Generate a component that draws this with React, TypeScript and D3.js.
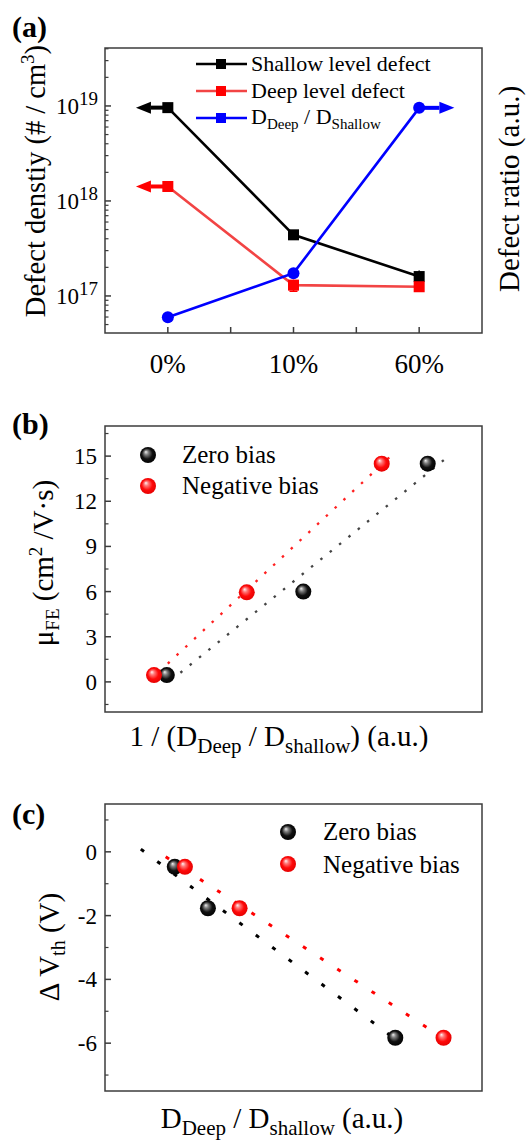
import * as d3 from "d3";

// panel (a): defect density vs. condition
const conditions = ["0%", "10%", "60%"];
const shallowDefect = [9.6e18, 4.4e17, 1.6e17];
const shallowErr = [3e17, 4e16, 2.5e16];
const deepDefect = [1.42e18, 1.3e17, 1.25e17];
const deepErr = [1.2e17, 1.8e16, 1.2e16];
const defectRatio = [0.055, 0.21, 0.79];
const densityMajor = [1e17, 1e18, 1e19];

// panel (b): mobility vs 1/(Ddeep/Dshallow)
const invRatioZero = [0.164, 0.526, 0.856];
const mobilityZero = [0.45, 6.0, 14.5];
const invRatioNeg = [0.13, 0.376, 0.734];
const mobilityNeg = [0.45, 5.95, 14.5];
const mobilityTicks = [0, 3, 6, 9, 12, 15];
const fitRangeBZero = [0.2, 0.9];
const fitRangeBNeg = [0.12, 0.76];

// panel (c): delta Vth vs Ddeep/Dshallow
const ratioZero = [0.185, 0.273, 0.77];
const dVthZero = [-0.47, -1.77, -5.83];
const ratioNeg = [0.212, 0.357, 0.898];
const dVthNeg = [-0.47, -1.77, -5.83];
const dVthTicks = [0, -2, -4, -6];
const fitRangeCZero = [0.095, 0.789];
const fitRangeCNeg = [0.161, 0.921];

const FONT = "'Liberation Serif', 'Times New Roman', Tinos";
const AXIS = "#3c3c3c";
const RED_LINE = "#f24444";

const L = 105;
const R = 482;

function fit(xs: number[], ys: number[]) {
  const mx = d3.mean(xs)!;
  const my = d3.mean(ys)!;
  let sxy = 0, sxx = 0;
  xs.forEach((x, i) => {
    sxy += (x - mx) * (ys[i] - my);
    sxx += (x - mx) * (x - mx);
  });
  const k = sxy / sxx;
  return (x: number) => my + k * (x - mx);
}

function T(props: any) {
  return <text {...props} style={{ fontFamily: FONT }} />;
}

function Frame({ top, bottom }: { top: number; bottom: number }) {
  return <rect x={L} y={top} width={R - L} height={bottom - top} fill="none" stroke={AXIS} strokeWidth={1.5} />;
}

function Sphere({ x, y, color }: { x: number; y: number; color: "black" | "red" }) {
  return <circle cx={x} cy={y} r={8} fill={`url(#sphere-${color})`} />;
}

function PanelA() {
  const top = 48, bottom = 333;
  const x = d3.scaleLinear().domain([-0.5, 2.5]).range([L, R]);
  const y = d3.scaleLog().domain([Math.pow(10, 16.61), Math.pow(10, 19.61)]).range([bottom, top]);
  const yr = d3.scaleLinear().domain([0, 1]).range([bottom, top]);
  const idx = conditions.map((_, i) => i);

  const minor: number[] = [];
  for (let e = 16; e <= 19; e++) {
    for (let m = 2; m <= 9; m++) {
      const v = m * Math.pow(10, e);
      if (v > y.domain()[0] && v < y.domain()[1]) minor.push(v);
    }
  }

  const line = d3.line<[number, number]>().x((d) => d[0]).y((d) => d[1]);
  const shallowPts: [number, number][] = idx.map((i) => [x(i), y(shallowDefect[i])]);
  const deepPts: [number, number][] = idx.map((i) => [x(i), y(deepDefect[i])]);
  const ratioPts: [number, number][] = idx.map((i) => [x(i), yr(defectRatio[i])]);

  const arrow = (x0: number, x1: number, yy: number, color: string) => {
    const dir = x1 > x0 ? 1 : -1;
    const hx = x1 - dir * 15;
    return (
      <g>
        <line x1={x0} y1={yy} x2={hx} y2={yy} stroke={color} strokeWidth={4} />
        <path d={`M${x1},${yy} L${hx},${yy - 6} L${hx},${yy + 6} Z`} fill={color} />
      </g>
    );
  };

  return (
    <g>
      <T x={12} y={37} fontWeight="bold" fontSize={30}>(a)</T>
      <Frame top={top} bottom={bottom} />
      {densityMajor.map((v) => (
        <g key={v}>
          <line x1={L} x2={L + 6} y1={y(v)} y2={y(v)} stroke={AXIS} strokeWidth={1.5} />
          <T x={79} y={y(v) + 8} textAnchor="end" fontSize={23}>10</T>
          <T x={79} y={y(v) - 1} fontSize={19}>{Math.round(Math.log10(v))}</T>
        </g>
      ))}
      {minor.map((v) => (
        <line key={v} x1={L} x2={L + 3.5} y1={y(v)} y2={y(v)} stroke={AXIS} strokeWidth={1.2} />
      ))}
      {[0, 0.5, 1, 1.5, 2].map((t) => (
        <line key={t} x1={x(t)} x2={x(t)} y1={bottom} y2={bottom - 6} stroke={AXIS} strokeWidth={1.5} />
      ))}
      {conditions.map((c, i) => (
        <T key={c} x={x(i)} y={373} textAnchor="middle" fontSize={27}>{c}</T>
      ))}
      <T transform={`translate(45,${181}) rotate(-90)`} textAnchor="middle" fontSize={28.5}>
        Defect denstiy (# / cm<tspan dy={-11} fontSize={19}>3</tspan><tspan dy={11}>)</tspan>
      </T>
      <T transform={`translate(519,${189}) rotate(-90)`} textAnchor="middle" fontSize={29}>
        Defect ratio (a.u.)
      </T>

      {arrow(x(0), x(-0.254), y(shallowDefect[0]), "#000")}
      {arrow(x(0), x(-0.254), y(deepDefect[0]), "#ff0000")}
      {arrow(x(2), x(2.28), yr(defectRatio[2]), "#0000ff")}

      <path d={line(shallowPts)!} fill="none" stroke="#000" strokeWidth={2.6} />
      <path d={line(deepPts)!} fill="none" stroke={RED_LINE} strokeWidth={2.6} />
      <path d={line(ratioPts)!} fill="none" stroke="#0000ff" strokeWidth={2.6} />

      {idx.map((i) => (
        <g key={"s" + i}>
          <line x1={x(i)} x2={x(i)} y1={y(shallowDefect[i] - shallowErr[i])} y2={y(shallowDefect[i] + shallowErr[i])} stroke="#000" strokeWidth={1.5} />
          <line x1={x(i) - 4} x2={x(i) + 4} y1={y(shallowDefect[i] - shallowErr[i])} y2={y(shallowDefect[i] - shallowErr[i])} stroke="#000" strokeWidth={1.5} />
          <rect x={x(i) - 5.5} y={y(shallowDefect[i]) - 5.5} width={11} height={11} fill="#000" />
        </g>
      ))}
      {idx.map((i) => (
        <g key={"d" + i}>
          <line x1={x(i)} x2={x(i)} y1={y(deepDefect[i] - deepErr[i])} y2={y(deepDefect[i] + deepErr[i])} stroke="#ff0000" strokeWidth={1.5} />
          <line x1={x(i) - 4} x2={x(i) + 4} y1={y(deepDefect[i] - deepErr[i])} y2={y(deepDefect[i] - deepErr[i])} stroke="#ff0000" strokeWidth={1.5} />
          <rect x={x(i) - 5.5} y={y(deepDefect[i]) - 5.5} width={11} height={11} fill="#ff0000" />
        </g>
      ))}
      {idx.map((i) => (
        <circle key={"r" + i} cx={x(i)} cy={yr(defectRatio[i])} r={6} fill="#0000ff" />
      ))}

      {/* legend */}
      {[
        { c: "#000", m: "#000", yy: 64 },
        { c: RED_LINE, m: "#ff0000", yy: 91 },
        { c: "#0000ff", m: "#0000ff", yy: 118 },
      ].map((d) => (
        <g key={d.yy}>
          <line x1={196} x2={247} y1={d.yy} y2={d.yy} stroke={d.c} strokeWidth={2.6} />
          <rect x={216} y={d.yy - 5} width={10} height={10} fill={d.m} />
        </g>
      ))}
      <T x={251} y={71} fontSize={22}>Shallow level defect</T>
      <T x={251} y={98} fontSize={22}>Deep level defect</T>
      <T x={251} y={124} fontSize={22}>
        D<tspan dy={5} fontSize={15}>Deep</tspan>
        <tspan dy={-5}> / D</tspan>
        <tspan dy={5} fontSize={15}>Shallow</tspan>
      </T>
    </g>
  );
}

function PanelB() {
  const top = 426, bottom = 712;
  const x = d3.scaleLinear().domain([0, 1]).range([L, R]);
  const y = d3.scaleLinear().domain([-2, 17]).range([bottom, top]);
  const fz = fit(invRatioZero, mobilityZero);
  const fn = fit(invRatioNeg, mobilityNeg);
  const minor = d3.range(-1.5, 17, 3);
  return (
    <g>
      <T x={12} y={434} fontWeight="bold" fontSize={30}>(b)</T>
      <Frame top={top} bottom={bottom} />
      {mobilityTicks.map((t) => (
        <g key={t}>
          <line x1={L} x2={L + 6} y1={y(t)} y2={y(t)} stroke={AXIS} strokeWidth={1.5} />
          <T x={97} y={y(t) + 8} textAnchor="end" fontSize={23}>{t}</T>
        </g>
      ))}
      {minor.map((t) => (
        <line key={t} x1={L} x2={L + 3.5} y1={y(t)} y2={y(t)} stroke={AXIS} strokeWidth={1.2} />
      ))}
      <T transform={`translate(53,563) rotate(-90)`} textAnchor="middle" fontSize={29}>
        μ<tspan dy={6} fontSize={19}>FE</tspan>
        <tspan dy={-6}> (cm</tspan>
        <tspan dy={-11} fontSize={19}>2</tspan>
        <tspan dy={11}> /V·s)</tspan>
      </T>
      <T x={279} y={746} textAnchor="middle" fontSize={29}>
        1 / (D<tspan dy={7} fontSize={21}>Deep</tspan>
        <tspan dy={-7}> / D</tspan>
        <tspan dy={7} fontSize={21}>shallow</tspan>
        <tspan dy={-7}>) (a.u.)</tspan>
      </T>

      <line x1={x(fitRangeBZero[0])} y1={y(fz(fitRangeBZero[0]))} x2={x(fitRangeBZero[1])} y2={y(fz(fitRangeBZero[1]))}
        stroke="#444" strokeWidth={2.3} strokeDasharray="2.5 9.5" />
      <line x1={x(fitRangeBNeg[0])} y1={y(fn(fitRangeBNeg[0]))} x2={x(fitRangeBNeg[1])} y2={y(fn(fitRangeBNeg[1]))}
        stroke="#ff2020" strokeWidth={2.3} strokeDasharray="2.5 9.5" />

      {invRatioZero.map((v, i) => (
        <Sphere key={"z" + i} x={x(v)} y={y(mobilityZero[i])} color="black" />
      ))}
      {invRatioNeg.map((v, i) => (
        <Sphere key={"n" + i} x={x(v)} y={y(mobilityNeg[i])} color="red" />
      ))}

      <Sphere x={148} y={455} color="black" />
      <Sphere x={148} y={486} color="red" />
      <T x={182} y={463} fontSize={25}>Zero bias</T>
      <T x={182} y={494} fontSize={25}>Negative bias</T>
    </g>
  );
}

function PanelC() {
  const top = 804, bottom = 1091;
  const x = d3.scaleLinear().domain([0, 1]).range([L, R]);
  const y = d3.scaleLinear().domain([-7.5, 1.5]).range([bottom, top]);
  const fz = fit(ratioZero, dVthZero);
  const fn = fit(ratioNeg, dVthNeg);
  const minor = [1, -1, -3, -5, -7];
  return (
    <g>
      <T x={12} y={824} fontWeight="bold" fontSize={30}>(c)</T>
      <Frame top={top} bottom={bottom} />
      {dVthTicks.map((t) => (
        <g key={t}>
          <line x1={L} x2={L + 6} y1={y(t)} y2={y(t)} stroke={AXIS} strokeWidth={1.5} />
          <T x={97} y={y(t) + 8} textAnchor="end" fontSize={23}>{t}</T>
        </g>
      ))}
      {minor.map((t) => (
        <line key={t} x1={L} x2={L + 3.5} y1={y(t)} y2={y(t)} stroke={AXIS} strokeWidth={1.2} />
      ))}
      <T transform={`translate(59,947) rotate(-90)`} textAnchor="middle" fontSize={29}>
        Δ V<tspan dy={6} fontSize={20}>th</tspan>
        <tspan dy={-6}> (V)</tspan>
      </T>
      <T x={282} y={1128} textAnchor="middle" fontSize={29}>
        D<tspan dy={7} fontSize={21}>Deep</tspan>
        <tspan dy={-7}> / D</tspan>
        <tspan dy={7} fontSize={21}>shallow</tspan>
        <tspan dy={-7}> (a.u.)</tspan>
      </T>

      <line x1={x(fitRangeCZero[0])} y1={y(fz(fitRangeCZero[0]))} x2={x(fitRangeCZero[1])} y2={y(fz(fitRangeCZero[1]))}
        stroke="#000" strokeWidth={3} strokeDasharray="4 16.5" />
      <line x1={x(fitRangeCNeg[0])} y1={y(fn(fitRangeCNeg[0]))} x2={x(fitRangeCNeg[1])} y2={y(fn(fitRangeCNeg[1]))}
        stroke="#ff0000" strokeWidth={3} strokeDasharray="4 16.5" />

      {ratioZero.map((v, i) => (
        <Sphere key={"z" + i} x={x(v)} y={y(dVthZero[i])} color="black" />
      ))}
      {ratioNeg.map((v, i) => (
        <Sphere key={"n" + i} x={x(v)} y={y(dVthNeg[i])} color="red" />
      ))}

      <Sphere x={288} y={832} color="black" />
      <Sphere x={288} y={864} color="red" />
      <T x={323} y={840} fontSize={25}>Zero bias</T>
      <T x={323} y={873} fontSize={25}>Negative bias</T>
    </g>
  );
}

export default function App() {
  return (
    <svg width={532} height={1142} style={{ position: "absolute", left: 0, top: 0, background: "#fff" }}>
      <style>{`text, tspan { font-family: 'Liberation Serif', 'Times New Roman', Tinos !important; }`}</style>
      <defs>
        <radialGradient id="sphere-black" cx="0.5" cy="0.5" r="0.55" fx="0.36" fy="0.3">
          <stop offset="0" stopColor="#f0f0f0" />
          <stop offset="0.25" stopColor="#808080" />
          <stop offset="0.6" stopColor="#111" />
          <stop offset="1" stopColor="#000" />
        </radialGradient>
        <radialGradient id="sphere-red" cx="0.5" cy="0.5" r="0.55" fx="0.36" fy="0.3">
          <stop offset="0" stopColor="#fff4f4" />
          <stop offset="0.25" stopColor="#ff7878" />
          <stop offset="0.6" stopColor="#ff0a0a" />
          <stop offset="1" stopColor="#e00000" />
        </radialGradient>
      </defs>
      <PanelA />
      <PanelB />
      <PanelC />
    </svg>
  );
}
